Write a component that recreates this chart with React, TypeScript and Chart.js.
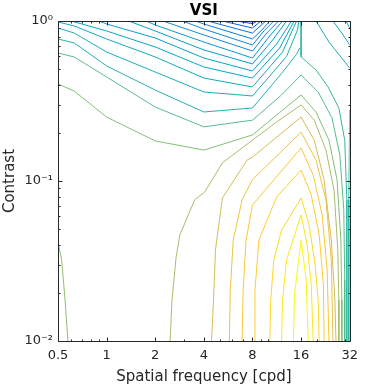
import React, { useEffect, useRef } from "react";
import { Chart, registerables } from "chart.js";

Chart.register(...registerables);

// ---- axis ticks ----
const xTicks = [0.5, 1, 2, 4, 8, 16, 32];
const xTickLabels = ["0.5", "1", "2", "4", "8", "16", "32"];
const xMinorTicks = [0.6, 0.7, 0.8, 0.9, 3, 5, 6, 7, 9, 10, 20, 30];
const yTicks = [0.01, 0.1, 1];
const yTickLabels = ["10\u207B\u00B2", "10\u207B\u00B9", "10\u2070"];
const yMinorTicks = [0.02, 0.03, 0.04, 0.05, 0.06, 0.07, 0.08, 0.09, 0.2, 0.3, 0.4, 0.5, 0.6, 0.7, 0.8, 0.9];

// ---- contour lines: [spatial frequency (cpd), contrast] ----
const cL0 = [[7.3, 1], [8, 0.986], [8.3, 1]];
const cL1 = [[6.4, 1], [8, 0.962], [8.6, 1]];
const cL2 = [[5.21, 1], [8, 0.904], [9.02, 1]];
const cL3 = [[4.22, 1], [8, 0.841], [9.68, 1]];
const cL4 = [[3.56, 1], [4, 0.958], [8, 0.772], [9.15, 0.878], [10.23, 1]];
const cL5 = [[2.95, 1], [4, 0.891], [8, 0.708], [9.41, 0.866], [10.83, 1]];
const cL6 = [[2.23, 1], [4, 0.818], [8, 0.649], [9.81, 0.841], [11.61, 1]];
const cL7 = [[1.76, 1], [2, 0.944], [4, 0.739], [8, 0.587], [10.23, 0.806], [12.28, 1]];
const cL8 = [[1.37, 1], [2, 0.866], [4, 0.659], [8, 0.539], [10.67, 0.761], [13, 1]];
const cL9 = [[0.897, 1], [1, 0.958], [2, 0.783], [4, 0.587], [8, 0.487], [11.29, 0.718], [13.95, 1]];
const cL10 = [[0.605, 1], [1, 0.866], [2, 0.688], [4, 0.516], [8, 0.44], [11.78, 0.678], [14.5, 1]];
const cL11 = [[0.5, 0.986], [0.63, 0.931], [1, 0.772], [2, 0.596], [4, 0.44], [8, 0.387], [12.28, 0.64], [15.0, 1]];
const cL12 = [[0.5, 0.904], [0.63, 0.841], [1, 0.64], [2, 0.48], [4, 0.36], [8, 0.34], [13, 0.6], [15.2, 0.88], [15.5, 1]];
const cL13 = [[0.5, 0.772], [0.63, 0.729], [1, 0.524], [2, 0.37], [4, 0.27], [8, 0.286], [12.11, 0.47], [15.0, 0.62], [15.7, 0.68]];
const cV11 = [[16, 1], [16, 0.596], [19.8, 0.494], [23.5, 0.387], [27.4, 0.286], [29.8, 0.18], [30.7, 0.0763], [30.7, 0.0278], [30.7, 0.01]];
const cL14 = [[0.5, 0.631], [0.63, 0.596], [1, 0.447], [2, 0.29], [4, 0.218], [8, 0.24], [12.11, 0.345], [16, 0.46], [20.4, 0.36], [24.85, 0.248], [27.8, 0.145], [29.4, 0.0662], [29.8, 0.024], [29.8, 0.01]];
const cG1 = [[0.5, 0.404], [0.63, 0.365], [1, 0.251], [2, 0.178], [4, 0.156], [8, 0.194], [9.81, 0.23], [16, 0.345], [19.8, 0.27], [23.8, 0.18], [26.7, 0.102], [28.2, 0.0428], [28.6, 0.018], [28.6, 0.01]];
const cBL = [[0.5, 0.041], [0.525, 0.033], [0.54, 0.024], [0.556, 0.0168], [0.576, 0.01]];
const cV8 = [[2.47, 0.01], [2.54, 0.018], [2.69, 0.0331], [2.84, 0.046], [3.51, 0.0763], [4.05, 0.0853], [5.21, 0.13], [8, 0.18], [11.29, 0.234], [16, 0.299], [19.3, 0.24], [22.8, 0.156], [25.6, 0.0876], [27, 0.0371], [27.4, 0.018], [27.4, 0.01]];
const cV7 = [[4.46, 0.01], [4.59, 0.018], [4.72, 0.0371], [5.21, 0.0783], [7.4, 0.135], [8, 0.141], [16, 0.251], [19.3, 0.18], [22.2, 0.102], [24.6, 0.0428], [25.9, 0.018], [26.3, 0.01]];
const cV6 = [[5.75, 0.01], [5.83, 0.0208], [6.08, 0.0428], [6.9, 0.0763], [8, 0.102], [16, 0.202], [19.8, 0.135], [22.8, 0.0763], [24.6, 0.0321], [25.2, 0.01]];
const cV5 = [[6.9, 0.01], [7.0, 0.0208], [7.3, 0.0428], [8, 0.0708], [16, 0.161], [19, 0.109], [21.6, 0.0614], [23.2, 0.0278], [23.8, 0.01]];
const cV4 = [[8.2, 0.01], [8.29, 0.0208], [8.77, 0.0428], [11.29, 0.0794], [16, 0.117], [18.5, 0.0818], [20.7, 0.046], [22, 0.0224], [22.2, 0.01]];
const cV3 = [[10.23, 0.01], [10.38, 0.018], [10.83, 0.0321], [12.11, 0.0494], [16, 0.0783], [17.95, 0.0531], [19.55, 0.0298], [20.4, 0.018], [20.7, 0.01]];
const cV2 = [[12.11, 0.01], [12.28, 0.018], [13, 0.0321], [16, 0.0614], [17.45, 0.0398], [18.5, 0.0224], [19, 0.01]];
const cV1 = [[14.35, 0.01], [14.55, 0.0194], [16, 0.0428], [17.2, 0.024], [17.7, 0.01]];
const cTR1 = [[30.3, 1], [32, 0.904]];
const cTR2 = [[25.2, 1], [28.6, 0.841], [32, 0.708]];
const cTR3 = [[19.8, 1], [23.8, 0.739], [32, 0.508]];
const cR = [[32, 0.278], [31.6, 0.0763], [31.6, 0.01]];

const contourLines = [cL0, cL1, cL2, cL3, cL4, cL5, cL6, cL7, cL8, cL9, cL10, cL11, cL12, cL13, cV11, cL14, cG1, cBL, cV8, cV7, cV6, cV5, cV4, cV3, cV2, cV1, cTR1, cTR2, cTR3, cR];
const contourLevels = [0.07, 0.11, 0.15, 0.19, 0.23, 0.26, 0.29, 0.32, 0.34, 0.36, 0.38, 0.41, 0.44, 0.47, 0.51, 0.56, 0.62, 0.64, 0.68, 0.76, 0.83, 0.87, 0.89, 0.92, 0.95, 0.99, 0.37, 0.41, 0.45, 0.49];

// parula-like colormap stops (style)
const parulaStops = ["#352A87", "#0F5CDD", "#1481D6", "#06A4CA", "#2EB7A4", "#87BF77", "#D1BB59", "#FEC832", "#F9FB0E"];
function hexToRgb(h: string) {
  return [parseInt(h.slice(1, 3), 16), parseInt(h.slice(3, 5), 16), parseInt(h.slice(5, 7), 16)];
}
function parula(t: number) {
  const n = parulaStops.length - 1;
  const p = Math.max(0, Math.min(1, t)) * n;
  const i = Math.min(n - 1, Math.floor(p));
  const f = p - i;
  const a = hexToRgb(parulaStops[i]);
  const b = hexToRgb(parulaStops[i + 1]);
  const c = a.map((v, k) => Math.round(v + (b[k] - v) * f));
  return `rgb(${c[0]},${c[1]},${c[2]})`;
}

const AXIS = "#262626";
const FONT = "DejaVu Sans";

const boxPlugin = {
  id: "matlabBox",
  afterDatasetsDraw(chart: any) {
    const { ctx, chartArea: a, scales } = chart;
    const L = Math.round(a.left) + 0.5;
    const R = Math.round(a.right) + 0.5;
    const T = Math.round(a.top) + 0.5;
    const B = Math.round(a.bottom) + 0.5;
    ctx.save();
    ctx.strokeStyle = AXIS;
    ctx.lineWidth = 1;
    ctx.beginPath();
    ctx.rect(L, T, R - L, B - T);
    const xt = (v: number, len: number) => {
      const p = Math.round(scales.x.getPixelForValue(v)) + 0.5;
      ctx.moveTo(p, B);
      ctx.lineTo(p, B - len);
      ctx.moveTo(p, T);
      ctx.lineTo(p, T + len);
    };
    const yt = (v: number, len: number) => {
      const p = Math.round(scales.y.getPixelForValue(v)) + 0.5;
      ctx.moveTo(L, p);
      ctx.lineTo(L + len, p);
      ctx.moveTo(R, p);
      ctx.lineTo(R - len, p);
    };
    xTicks.forEach((v) => xt(v, 4));
    xMinorTicks.forEach((v) => xt(v, 2));
    yTicks.forEach((v) => yt(v, 4));
    yMinorTicks.forEach((v) => yt(v, 2));
    ctx.stroke();
    ctx.restore();
  },
};

export default function App() {
  const ref = useRef<HTMLCanvasElement | null>(null);
  useEffect(() => {
    document.body.style.margin = "0";
    const canvas = ref.current;
    if (!canvas) return;
    const datasets = contourLines.map((line, i) => ({
      data: line.map(([x, y]) => ({ x, y })),
      borderColor: parula(contourLevels[i]),
      borderWidth: 1,
      pointRadius: 0,
      tension: 0,
      fill: false,
    }));
    const chart = new Chart(canvas, {
      type: "line",
      data: { datasets },
      plugins: [boxPlugin],
      options: {
        responsive: false,
        animation: false,
        layout: { padding: { left: 0, right: 11, top: 0, bottom: 0 } },
        plugins: {
          legend: { display: false },
          tooltip: { enabled: false },
          title: {
            display: true,
            text: "VSI",
            fullSize: false,
            color: "#000",
            font: { family: FONT, size: 15, weight: "bold" },
            padding: { top: 2, bottom: 1 },
          },
        },
        scales: {
          x: {
            type: "logarithmic",
            min: 0.5,
            max: 32,
            afterBuildTicks: (s: any) => {
              s.ticks = xTicks.map((v) => ({ value: v }));
            },
            afterFit: (s: any) => {
              s.height = 46;
            },
            ticks: {
              autoSkip: false,
              maxRotation: 0,
              color: AXIS,
              padding: 7,
              font: { family: FONT, size: 13 },
              callback: (v: any) => xTickLabels[xTicks.indexOf(Number(v))] ?? "",
            },
            grid: { display: false, drawTicks: false },
            border: { display: false },
            title: {
              display: true,
              text: "Spatial frequency [cpd]",
              color: AXIS,
              font: { family: FONT, size: 15 },
              padding: { top: 0, bottom: 1 },
            },
          },
          y: {
            type: "logarithmic",
            min: 0.01,
            max: 1,
            afterBuildTicks: (s: any) => {
              s.ticks = yTicks.map((v) => ({ value: v }));
            },
            afterFit: (s: any) => {
              s.width = 58;
            },
            ticks: {
              autoSkip: false,
              color: AXIS,
              padding: 5,
              font: { family: FONT, size: 13 },
              callback: (v: any) => yTickLabels[yTicks.indexOf(Number(v))] ?? "",
            },
            grid: { display: false, drawTicks: false },
            border: { display: false },
            title: {
              display: true,
              text: "Contrast",
              color: AXIS,
              font: { family: FONT, size: 15 },
              padding: { top: 1, bottom: 0 },
            },
          },
        },
      } as any,
    });
    return () => chart.destroy();
  }, []);
  return <canvas ref={ref} width={365} height={387} style={{ display: "block" }} />;
}
